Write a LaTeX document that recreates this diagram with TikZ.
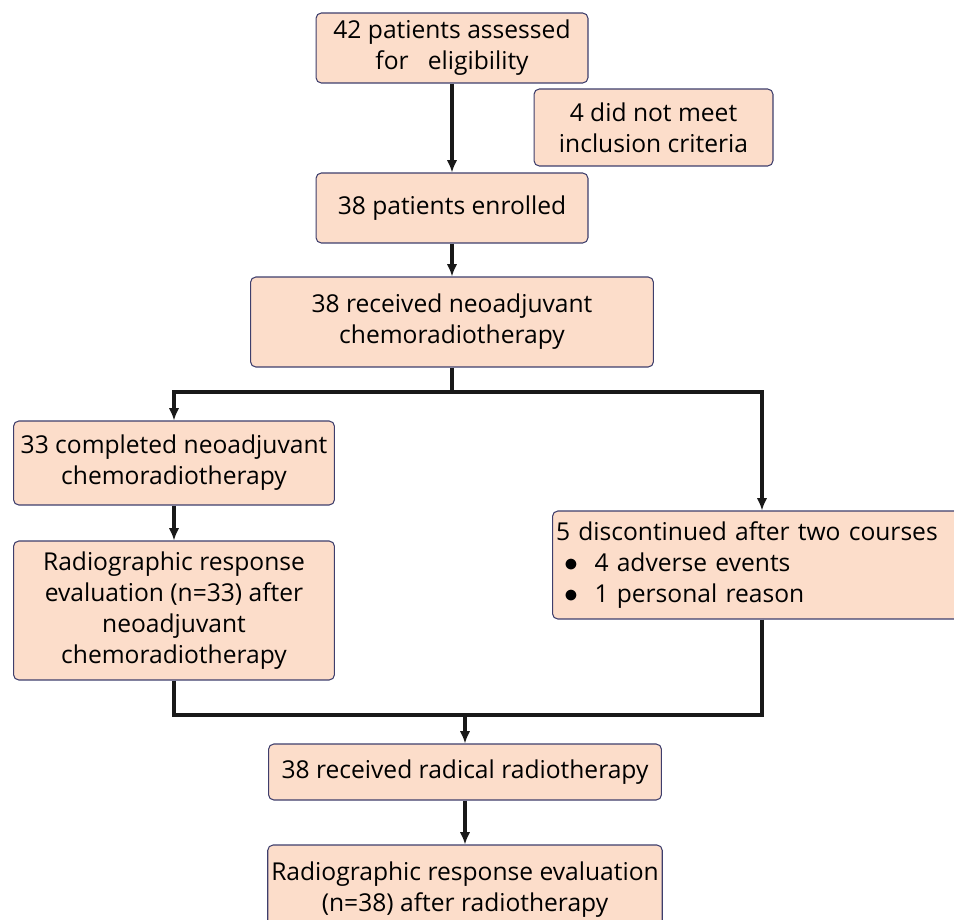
\documentclass[tikz,border=0pt]{standalone}
\usepackage{fontspec}
\setmainfont{Open Sans}
\usetikzlibrary{arrows.meta}
\definecolor{peach}{HTML}{FCDDCA}
\definecolor{edge}{HTML}{3E3E6C}
\newcommand{\dotitem}{\scalebox{1.1}{$\bullet$}}
\tikzset{
    box/.style={draw=edge, line width=0.6pt, fill=peach, rounded corners=3pt,
        align=center, inner sep=2pt, font=\fontsize{14}{17.6}\selectfont},
    flow/.style={line width=1.8pt, black!90},
    arrow/.style={flow, -{Latex[length=7pt, width=6pt]}}
}
\begin{document}
\begin{tikzpicture}[x=0.02cm, y=-0.02cm]
    \useasboundingbox (0,0) rectangle (954,920);

    % Screening
    \node[box, minimum width=5.44cm, minimum height=1.4cm] (assess) at (452,48)
        {42 patients assessed\\for\ \ \ eligibility};
    \node[box, minimum width=4.78cm, minimum height=1.54cm] (excl) at (653.5,127.5)
        {4 did not meet\\inclusion criteria};
    \node[box, minimum width=5.44cm, minimum height=1.4cm] (enrol) at (452,208)
        {38 patients enrolled};
    \node[box, minimum width=8.06cm, minimum height=1.8cm] (treat) at (452,322)
        {38 received neoadjuvant\\chemoradiotherapy};

    % Two arms
    \node[box, minimum width=6.42cm, minimum height=1.68cm] (done) at (174,463)
        {33 completed neoadjuvant\\chemoradiotherapy};
    \node[box, minimum width=6.42cm, minimum height=2.78cm] (evalA) at (174,610.5)
        {Radiographic response\\evaluation (n=33) after\\neoadjuvant\\chemoradiotherapy};
    \node[box, minimum width=8.32cm, minimum height=2.16cm, text width=8.24cm, align=left] (stop) at (762,565)
        {5 discontinued after two courses\\
         \ \dotitem\ \ 4 adverse events\\
         \ \dotitem\ \ 1 personal reason};

    % Radiotherapy
    \node[box, minimum width=7.86cm, minimum height=1.12cm] (radio) at (465,772)
        {38 received radical radiotherapy};
    \node[box, minimum width=7.86cm, minimum height=1.8cm] (evalB) at (465,890)
        {Radiographic response evaluation\\(n=38) after radiotherapy};

    % Connectors
    \coordinate (split) at (452,392);
    \coordinate (merge) at (465,715);
    \draw[arrow] (assess) -- (enrol);
    \draw[arrow] (enrol) -- (treat);
    \draw[flow] (treat) -- (split);
    \draw[arrow] (split) -| (done);
    \draw[arrow] (split) -| (stop);
    \draw[arrow] (done) -- (evalA);
    \draw[flow] (evalA) |- (merge);
    \draw[flow] (stop) |- (merge);
    \draw[arrow] (merge) -- (radio);
    \draw[arrow] (radio) -- (evalB);

\end{tikzpicture}
\end{document}
